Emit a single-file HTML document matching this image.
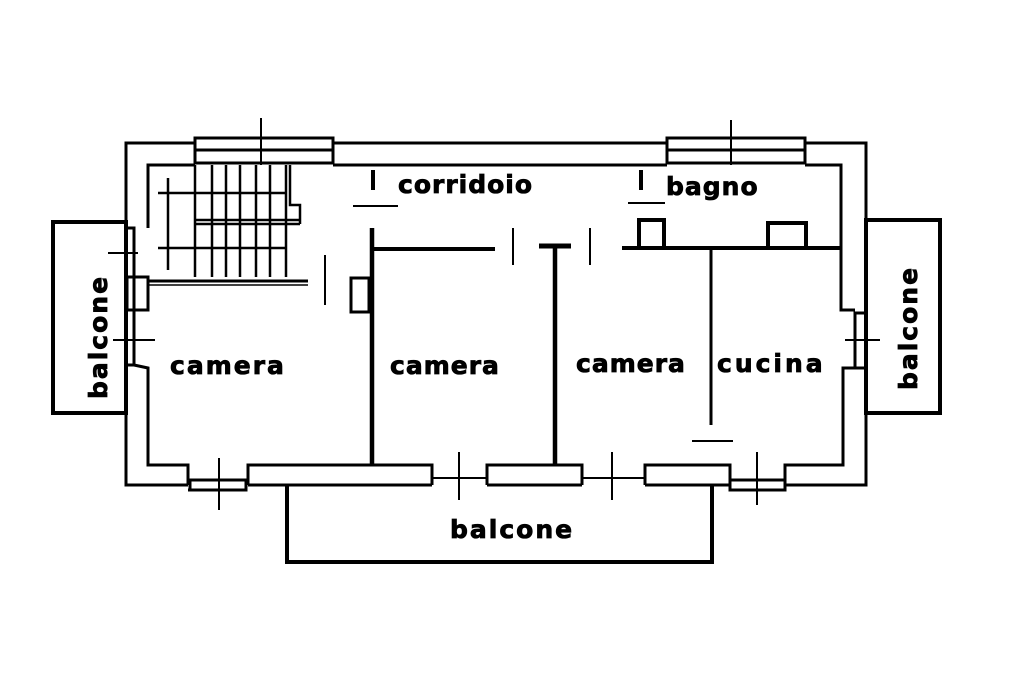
<!DOCTYPE html>
<html><head><meta charset="utf-8"><style>
html,body{margin:0;padding:0;background:#fff;}
svg{display:block}
text{font-family:"DejaVu Sans","Liberation Sans",sans-serif;font-weight:bold;fill:#000;stroke:#000;stroke-width:0.8;}
</style></head><body>
<svg width="1024" height="682" viewBox="0 0 1024 682" xmlns="http://www.w3.org/2000/svg">
<g fill="none" stroke="#000" stroke-width="3" stroke-linejoin="miter">
<polyline points="195,143 126,143 126,228 134,228 134,365 126,365 126,485 188,485"/>
<polyline points="248,485 432,485"/>
<polyline points="487,485 582,485"/>
<polyline points="645,485 730,485"/>
<polyline points="785,485 866,485 866,368 855,368 855,313 866,313 866,143 805,143"/>
<polyline points="333,143 667,143"/>
<rect x="195" y="138" width="138" height="25"/>
<line x1="195" y1="150" x2="333" y2="150"/>
<rect x="667" y="138" width="138" height="25"/>
<line x1="667" y1="150" x2="805" y2="150"/>
<line x1="261" y1="118" x2="261" y2="165" stroke-width="2"/>
<line x1="731" y1="120" x2="731" y2="165" stroke-width="2"/>
<polyline points="195,165 148,165 148,228"/>
<polyline points="148,282 148,310"/>
<polyline points="134,365 148,368 148,465 188,465 188,485"/>
<polyline points="333,165 667,165"/>
<polyline points="805,165 841,165 841,310 855,310"/>
<polyline points="855,368 843,368 843,465 785,465 785,490"/>
<polyline points="188,490 246,490 246,485"/>
<rect x="190" y="480" width="56" height="10"/>
<polyline points="248,485 248,465 432,465 432,485"/>
<polyline points="487,485 487,465 582,465 582,485"/>
<polyline points="645,485 645,465 730,465 730,485"/>
<rect x="730" y="480" width="55" height="10"/>
<line x1="432" y1="478" x2="487" y2="478" stroke-width="2"/>
<line x1="582" y1="478" x2="645" y2="478" stroke-width="2"/>
<line x1="219" y1="458" x2="219" y2="510" stroke-width="2"/>
<line x1="459" y1="452" x2="459" y2="500" stroke-width="2"/>
<line x1="612" y1="452" x2="612" y2="500" stroke-width="2"/>
<line x1="757" y1="452" x2="757" y2="505" stroke-width="2"/>
<rect x="127" y="277" width="21" height="33"/>
<line x1="108" y1="253" x2="138" y2="253" stroke-width="2"/>
<line x1="113" y1="340" x2="155" y2="340" stroke-width="2"/>
<line x1="845" y1="340" x2="880" y2="340" stroke-width="2"/>
<rect x="53" y="222" width="73" height="191" stroke-width="4"/>
<rect x="866" y="220" width="74" height="193" stroke-width="4"/>
<polyline points="287,485 287,562 712,562 712,485" stroke-width="4"/>
<g stroke-width="2.5">
<line x1="195" y1="165" x2="195" y2="277"/>
<line x1="212" y1="165" x2="212" y2="277"/>
<line x1="226" y1="165" x2="226" y2="277"/>
<line x1="240" y1="165" x2="240" y2="277"/>
<line x1="256" y1="165" x2="256" y2="277"/>
<line x1="270" y1="165" x2="270" y2="277"/>
<line x1="286" y1="165" x2="286" y2="277"/>
<line x1="158" y1="193" x2="286" y2="193"/>
<line x1="195" y1="220" x2="300" y2="220"/>
<line x1="195" y1="224" x2="300" y2="224"/>
<line x1="158" y1="248" x2="286" y2="248"/>
<polyline points="290,165 290,205 300,205 300,224"/>
<line x1="168" y1="178" x2="168" y2="270"/>
</g>
<line x1="148" y1="281" x2="308" y2="281" stroke-width="3"/>
<line x1="148" y1="285" x2="308" y2="285" stroke-width="1.5"/>
<line x1="325" y1="255" x2="325" y2="305" stroke-width="2"/>
<line x1="372" y1="228" x2="372" y2="465" stroke-width="4.5"/>
<polyline points="372,249 495,249" stroke-width="4"/>
<rect x="351" y="278" width="18" height="34" stroke-width="3"/>
<line x1="555" y1="246" x2="555" y2="465" stroke-width="4.5"/>
<line x1="539" y1="246" x2="571" y2="246" stroke-width="5"/>
<line x1="513" y1="228" x2="513" y2="265" stroke-width="2"/>
<line x1="590" y1="228" x2="590" y2="265" stroke-width="2"/>
<line x1="622" y1="248" x2="841" y2="248" stroke-width="4"/>
<line x1="711" y1="248" x2="711" y2="425" stroke-width="3"/>
<rect x="639" y="220" width="25" height="28" stroke-width="4"/>
<rect x="768" y="223" width="38" height="25" stroke-width="4"/>
<line x1="373" y1="170" x2="373" y2="190" stroke-width="4"/>
<line x1="353" y1="206" x2="398" y2="206" stroke-width="2"/>
<line x1="641" y1="170" x2="641" y2="190" stroke-width="4"/>
<line x1="628" y1="203" x2="665" y2="203" stroke-width="2"/>
<line x1="692" y1="441" x2="733" y2="441" stroke-width="2"/>
</g>
<text x="170" y="374" font-size="25" letter-spacing="2">camera</text>
<text x="390" y="374" font-size="25" letter-spacing="1">camera</text>
<text x="576" y="372" font-size="25" letter-spacing="1">camera</text>
<text x="717" y="372" font-size="25" letter-spacing="3">cucina</text>
<text x="398" y="193" font-size="25" letter-spacing="1">corridoio</text>
<text x="666" y="195" font-size="25" letter-spacing="1">bagno</text>
<text x="450" y="538" font-size="25" letter-spacing="2">balcone</text>
<text transform="translate(107,337) rotate(-90)" text-anchor="middle" font-size="25" letter-spacing="2">balcone</text>
<text transform="translate(917,328) rotate(-90)" text-anchor="middle" font-size="25" letter-spacing="2">balcone</text>
</svg>
</body></html>
